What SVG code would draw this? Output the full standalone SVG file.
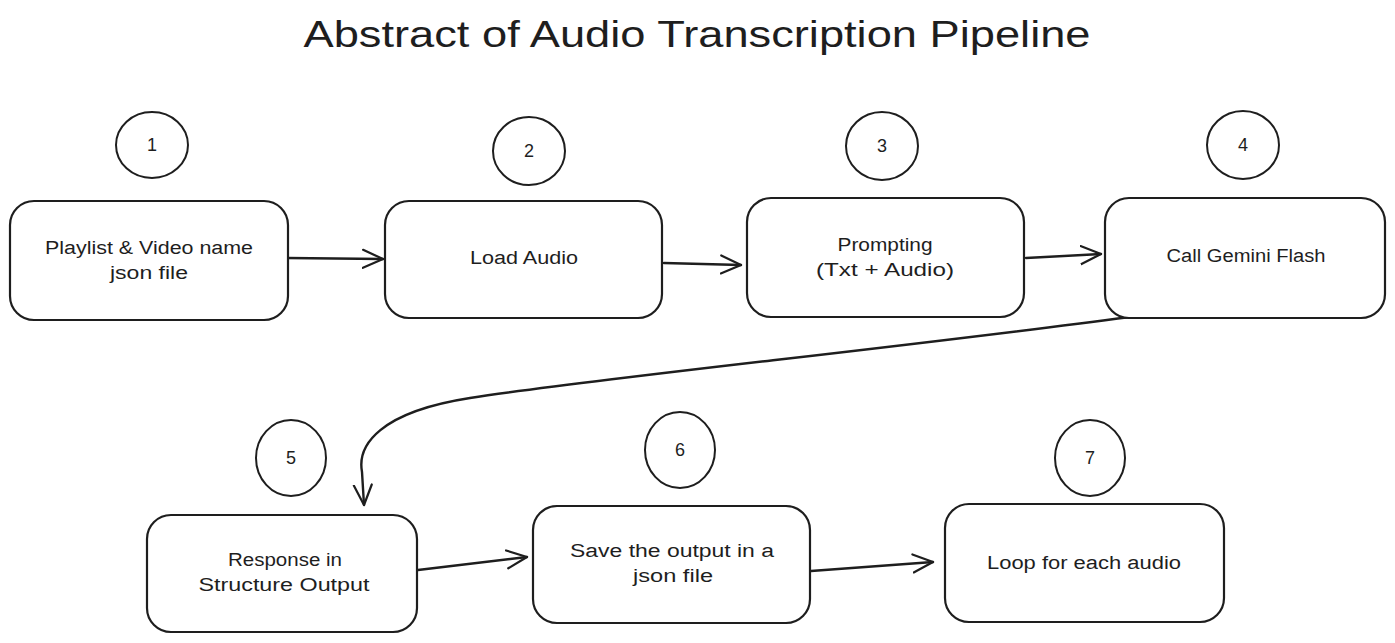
<svg xmlns="http://www.w3.org/2000/svg" width="1395" height="643" viewBox="0 0 1395 643">
<style>
.box{fill:#fff;stroke:#1e1e1e;stroke-width:2.2}
.circ{fill:none;stroke:#1e1e1e;stroke-width:2}
.t{font-family:"Liberation Sans",Arial,sans-serif;font-size:18px;fill:#1e1e1e;text-anchor:middle}
.n{font-family:"Liberation Sans",Arial,sans-serif;font-size:18px;fill:#1e1e1e;text-anchor:middle}
.title{font-family:"Liberation Sans",Arial,sans-serif;font-size:36px;fill:#1e1e1e;text-anchor:middle}
.conn{fill:none;stroke:#1e1e1e;stroke-width:2.4;stroke-linecap:round}
</style>
<defs>
<marker id="ah" markerUnits="userSpaceOnUse" markerWidth="24" markerHeight="22" refX="21" refY="11" orient="auto">
<path d="M1,2 L21,11 L1,20" fill="none" stroke="#1e1e1e" stroke-width="2.2" stroke-linecap="round" stroke-linejoin="round"/>
</marker>
</defs>
<rect width="1395" height="643" fill="#fff"/>
<text class="title" x="697" y="47" textLength="787" lengthAdjust="spacingAndGlyphs">Abstract of Audio Transcription Pipeline</text>

<g id="connectors">
<path class="conn" marker-end="url(#ah)" d="M287,258 L383,259"/>
<path class="conn" marker-end="url(#ah)" d="M664,263 L741,265"/>
<path class="conn" marker-end="url(#ah)" d="M1026,258 L1101,254"/>
<path class="conn" marker-end="url(#ah)" d="M1130,317 C880,350 600,378 470,398 C380,412 357,445 362,472 L364,505"/>
<path class="conn" marker-end="url(#ah)" d="M418,570 L527,557"/>
<path class="conn" marker-end="url(#ah)" d="M811,571 L933,562"/>
</g>

<g id="step1">
<ellipse class="circ" cx="152" cy="145" rx="36" ry="33"/>
<text class="n" x="152" y="151">1</text>
</g>
<g id="step2">
<ellipse class="circ" cx="529" cy="151" rx="36" ry="34"/>
<text class="n" x="529" y="157">2</text>
</g>
<g id="step3">
<ellipse class="circ" cx="882" cy="146" rx="36" ry="34"/>
<text class="n" x="882" y="152">3</text>
</g>
<g id="step4">
<ellipse class="circ" cx="1243" cy="145" rx="36" ry="34"/>
<text class="n" x="1243" y="151">4</text>
</g>
<g id="step5">
<ellipse class="circ" cx="291" cy="458" rx="35" ry="38"/>
<text class="n" x="291" y="464">5</text>
</g>
<g id="step6">
<ellipse class="circ" cx="680" cy="450" rx="35" ry="38"/>
<text class="n" x="680" y="456">6</text>
</g>
<g id="step7">
<ellipse class="circ" cx="1090" cy="458" rx="35" ry="38"/>
<text class="n" x="1090" y="464">7</text>
</g>

<g id="node1">
<rect class="box" x="10" y="201" width="278" height="119" rx="24"/>
<text class="t" x="149" y="254" textLength="208" lengthAdjust="spacingAndGlyphs">Playlist &amp; Video name</text>
<text class="t" x="149" y="279" textLength="78" lengthAdjust="spacingAndGlyphs">json file</text>
</g>
<g id="node2">
<rect class="box" x="385" y="201" width="277" height="117" rx="24"/>
<text class="t" x="524" y="264" textLength="108" lengthAdjust="spacingAndGlyphs">Load Audio</text>
</g>
<g id="node3">
<rect class="box" x="747" y="198" width="277" height="119" rx="24"/>
<text class="t" x="885" y="251" textLength="95" lengthAdjust="spacingAndGlyphs">Prompting</text>
<text class="t" x="885" y="276" textLength="138" lengthAdjust="spacingAndGlyphs">(Txt + Audio)</text>
</g>
<g id="node4">
<rect class="box" x="1105" y="198" width="280" height="120" rx="24"/>
<text class="t" x="1246" y="262" textLength="159" lengthAdjust="spacingAndGlyphs">Call Gemini Flash</text>
</g>
<g id="node5">
<rect class="box" x="147" y="515" width="270" height="117" rx="24"/>
<text class="t" x="285" y="566" textLength="114" lengthAdjust="spacingAndGlyphs">Response in</text>
<text class="t" x="284" y="591" textLength="171" lengthAdjust="spacingAndGlyphs">Structure Output</text>
</g>
<g id="node6">
<rect class="box" x="533" y="506" width="277" height="117" rx="24"/>
<text class="t" x="672" y="557" textLength="204" lengthAdjust="spacingAndGlyphs">Save the output in a</text>
<text class="t" x="673" y="582" textLength="80" lengthAdjust="spacingAndGlyphs">json file</text>
</g>
<g id="node7">
<rect class="box" x="945" y="504" width="279" height="118" rx="24"/>
<text class="t" x="1084" y="569" textLength="194" lengthAdjust="spacingAndGlyphs">Loop for each audio</text>
</g>
</svg>
